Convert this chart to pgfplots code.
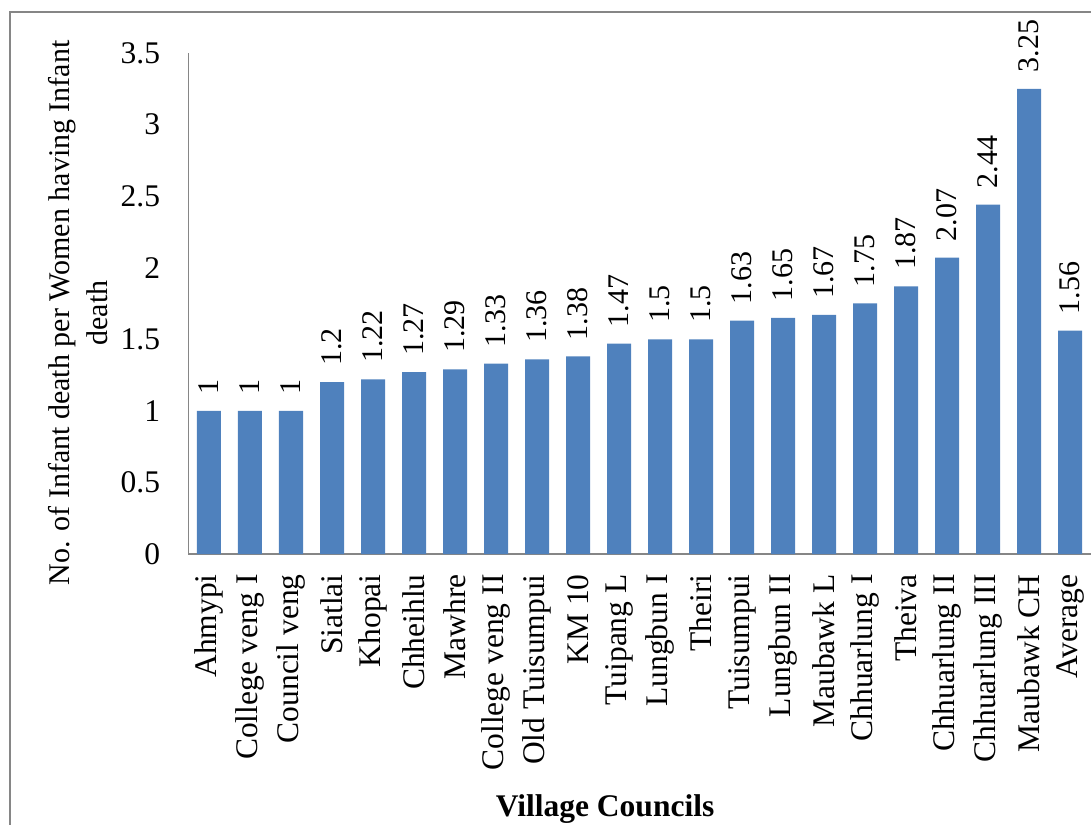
\documentclass[border=0pt]{standalone}
\usepackage{pgfplots}
\pgfplotsset{compat=1.18}
\usepackage{fontspec}
\setmainfont{Liberation Serif}
\definecolor{barblue}{HTML}{4F81BD}
\definecolor{axgray}{HTML}{868686}
\newcommand{\lblfont}{\fontsize{15.75}{18.5}\selectfont}
\begin{document}
\begin{tikzpicture}[x=0.5pt,y=0.5pt]
\path[use as bounding box, clip] (-188.5,-270) rectangle (902.5,554);
\draw[axgray, line width=0.8pt] (-178.5,-400) rectangle (1000,542);
\begin{axis}[
  at={(0,0)}, anchor=south west,
  scale only axis, width=451pt, height=250.5pt,
  xmin=-0.5, xmax=21.5, ymin=0, ymax=3.5,
  clip=false,
  /pgf/number format/assume math mode=true,
  axis x line*=bottom, axis y line*=left,
  axis line style={draw=axgray, line width=0.75pt, -},
  major tick length=0pt,
  ytick={0,0.5,1,1.5,2,2.5,3,3.5},
  yticklabel style={font=\lblfont, anchor=east, inner sep=0pt},
  yticklabel shift=14pt,
  xtick={0,...,21},
  xticklabels={Ahmypi,College veng I,Council veng,Siatlai,Khopai,Chheihlu,Mawhre,College veng II,Old Tuisumpui,KM 10,Tuipang L,Lungbun I,Theiri,Tuisumpui,Lungbun II,Maubawk L,Chhuarlung I,Theiva,Chhuarlung II,Chhuarlung III,Maubawk CH,Average},
  xticklabel style={font=\lblfont, rotate=90, anchor=east, inner sep=0pt},
  xticklabel shift=10pt,
  ylabel={No. of Infant death per Women having Infant\\death},
  ylabel style={font=\fontsize{15}{19}\selectfont, align=center, at={(rel axis cs:-0.1225,0.481)}, anchor=center},
  xlabel={\bfseries Village Councils},
  xlabel style={font=\lblfont, at={(rel axis cs:0.4618,-0.523)}, anchor=base},
  ybar, bar width=12pt,
  nodes near coords,
  every node near coord/.append style={font=\fontsize{15}{18}\selectfont, rotate=90, anchor=west, inner xsep=8pt, inner ysep=0pt, color=black},
]
\addplot[fill=barblue, draw=none] coordinates {
(0,1) (1,1) (2,1) (3,1.2) (4,1.22) (5,1.27) (6,1.29) (7,1.33) (8,1.36) (9,1.38) (10,1.47)
(11,1.5) (12,1.5) (13,1.63) (14,1.65) (15,1.67) (16,1.75) (17,1.87) (18,2.07) (19,2.44) (20,3.25) (21,1.56)};
\end{axis}
\end{tikzpicture}
\end{document}
